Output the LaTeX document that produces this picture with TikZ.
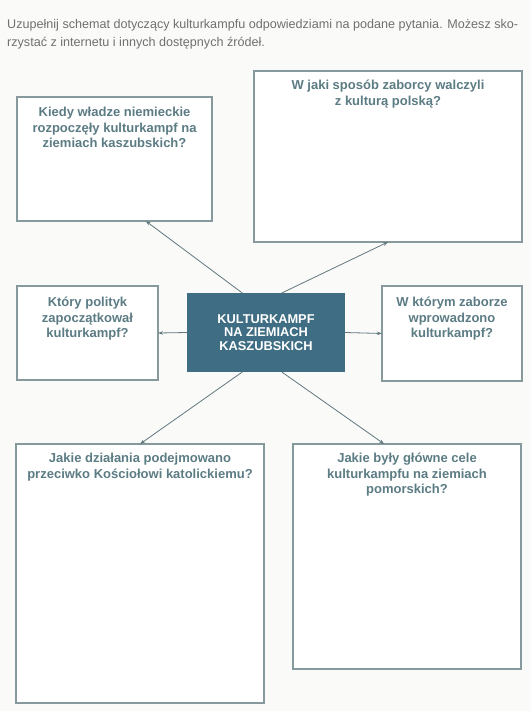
\documentclass[tikz,border=0pt]{standalone}
\usepackage{fontspec}
\setmainfont{Liberation Sans}
\usetikzlibrary{positioning,arrows.meta,calc}

\definecolor{ramka}{HTML}{86999D}
\definecolor{pytanie}{HTML}{5C7C84}
\definecolor{srodek}{HTML}{3F6E84}
\definecolor{strzalka}{HTML}{62777D}
\definecolor{polecenie}{HTML}{707070}
\definecolor{tlo}{HTML}{FAFAF9}

\tikzset{
  pole/.style={draw=ramka, line width=1.1pt, inner sep=0pt, outer sep=0pt, fill=white},
  pytanie/.style={text=pytanie, font=\fontsize{13}{15.5}\selectfont\bfseries, align=center, inner sep=0pt},
  strz/.style={draw=strzalka, line width=0.8pt, -{Stealth[length=5pt,width=3.5pt]}},
}

\begin{document}
\begin{tikzpicture}[x=1pt,y=-1pt]

\fill[tlo] (0,0) rectangle (531,711);
\useasboundingbox (0,0) rectangle (531,711);

\node[anchor=north west, inner sep=0pt, text=polecenie, align=left,
  font=\fontsize{12.6}{18.5}\selectfont] (polecenie) at (7,19)
  {Uzupełnij schemat dotyczący kulturkampfu odpowiedziami na podane pytania. Możesz sko-\\
   rzystać z internetu i innych dostępnych źródeł.};

% pola z pytaniami
\node[pole, minimum width=195pt, minimum height=124pt] (kiedy) at (114.5,159) {};
\node[pole, minimum width=268pt, minimum height=171pt] (sposob) at (388,156.5) {};
\node[pole, minimum width=141pt, minimum height=94pt] (polityk) at (87.5,333) {};
\node[pole, minimum width=140pt, minimum height=95pt] (zabor) at (452,333.5) {};
\node[pole, minimum width=248pt, minimum height=259pt] (dzialania) at (140,573.5) {};
\node[pole, minimum width=228pt, minimum height=225pt] (cele) at (407,556.5) {};

\node[pytanie, below=10pt of kiedy.north] (kiedyq)
  {Kiedy władze niemieckie\\rozpoczęły kulturkampf na\\ziemiach kaszubskich?};
\node[pytanie, below=9pt of sposob.north] (sposobq)
  {W jaki sposób zaborcy walczyli\\z kulturą polską?};
\node[pytanie, below=11pt of polityk.north] (politykq)
  {Który polityk\\zapoczątkował\\kulturkampf?};
\node[pytanie, below=11pt of zabor.north] (zaborq)
  {W którym zaborze\\wprowadzono\\kulturkampf?};
\node[pytanie, below=9pt of dzialania.north] (dzialaniaq)
  {Jakie działania podejmowano\\przeciwko Kościołowi katolickiemu?};
\node[pytanie, below=9pt of cele.north] (celeq)
  {Jakie były główne cele\\kulturkampfu na ziemiach\\pomorskich?};

% srodek
\node[fill=srodek, minimum width=158pt, minimum height=79pt, inner sep=0pt, outer sep=0pt,
  text=white, align=center, font=\fontsize{12.8}{13.5}\selectfont\bfseries] (kk) at (266,332.5)
  {KULTURKAMPF\\NA ZIEMIACH\\KASZUBSKICH};

\draw[strz] ($(kk.north west)!0.35!(kk.north east)$) -- ($(kiedy.south west)!0.66!(kiedy.south east)$);
\draw[strz] ($(kk.north west)!0.6!(kk.north east)$) -- (sposob.south);
\draw[strz] (kk.west) -- (polityk.east);
\draw[strz] (kk.east) -- (zabor.west);
\draw[strz] ($(kk.south west)!0.35!(kk.south east)$) -- (dzialania.north);
\draw[strz] ($(kk.south west)!0.6!(kk.south east)$) -- ($(cele.north west)!0.4!(cele.north east)$);

\end{tikzpicture}
\end{document}
